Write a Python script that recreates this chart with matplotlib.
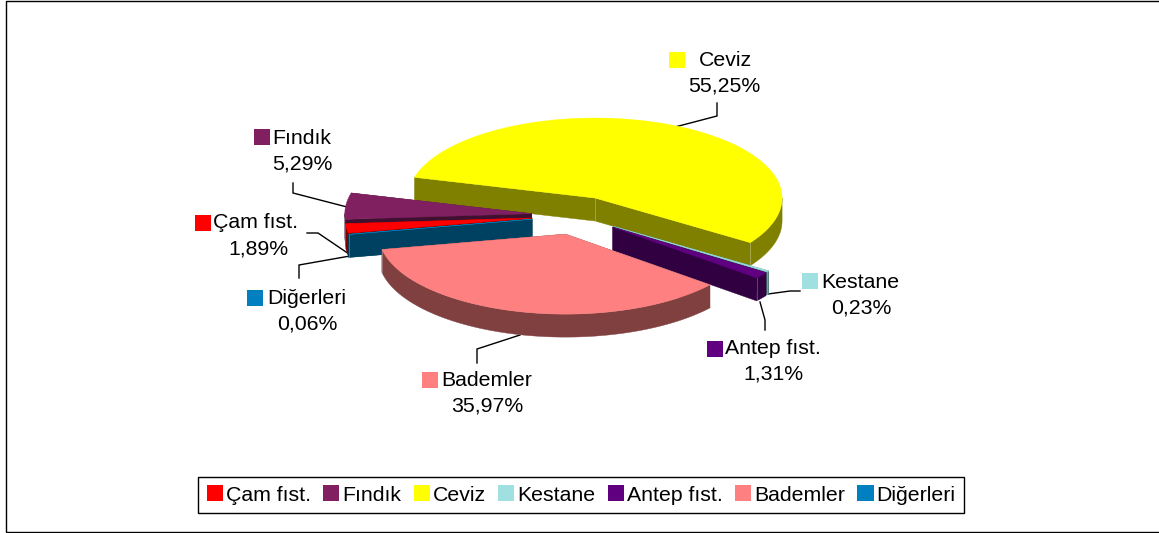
import numpy as np
import matplotlib
matplotlib.use("Agg")
import matplotlib.pyplot as plt
from matplotlib.patches import Polygon, Rectangle, Patch

categories = ["Çam fıst.", "Fındık", "Ceviz", "Kestane", "Antep fıst.", "Bademler", "Diğerleri"]
values = [1.89, 5.29, 55.25, 0.23, 1.31, 35.97, 0.06]
top_colors = ["#FF0000", "#802060", "#FFFF00", "#A0E0E0", "#600080", "#FF8080", "#0080C0"]
side_colors = ["#800000", "#401030", "#808000", "#508080", "#300040", "#804040", "#004060"]

plt.rcParams["font.family"] = ["Liberation Sans", "DejaVu Sans"]
FS = 15.3

W, H = 1159, 533
fig = plt.figure(figsize=(W / 100, H / 100), dpi=100)
ax = fig.add_axes([0, 0, 1, 1])
ax.set_xlim(0, W)
ax.set_ylim(H, 0)
ax.axis("off")

# chart frame
ax.plot([1159, 6, 6, 1159], [0.5, 0.5, 532, 532], color="black", lw=1, solid_joinstyle="miter")

# pie geometry (pixels)
CX, CY, RX, RY = 576.5, 215.5, 187, 80
DEPTH, EXPLODE = 23, 0.24
START = 190.85  # degrees, ellipse parameter of the first slice's start, going clockwise


def rim(a0, a1, cx, cy, n=None):
    n = n or max(2, int(abs(a1 - a0)) + 2)
    t = np.radians(np.linspace(a0, a1, n))
    return np.c_[cx + RX * np.cos(t), cy - RY * np.sin(t)]


def face(pts, color, z):
    ax.add_patch(Polygon(pts, closed=True, fc=color, ec=color, lw=0.3, zorder=z))


shares = np.array(values) / np.sum(values) * 360
ends = START - np.cumsum(shares)
starts = ends + shares
draw_order = [2, 1, 0, 6, 3, 4, 5]  # back to front
z = 3
for i in draw_order:
    a0, a1 = starts[i], ends[i]
    mid = np.radians((a0 + a1) / 2)
    cx = CX + EXPLODE * RX * np.cos(mid)
    cy = CY - EXPLODE * RY * np.sin(mid)
    apex = np.array([cx, cy])
    down = np.array([0, DEPTH])
    # visible outer rim: the lower half of the ellipse
    lo, hi = a1, a0
    for shift in (-360, 0):
        s, e = max(lo, 180 + shift), min(hi, 360 + shift)
        if e > s:
            r = rim(s, e, cx, cy)
            face(np.vstack([r, (r + down)[::-1]]), side_colors[i], z)
    # cut faces
    for a in (a0, a1):
        p = rim(a, a, cx, cy, 2)[0]
        face([apex, p, p + down, apex + down], side_colors[i], z)
    # pale seams on the vertical edges
    p_end = rim(a1, a1, cx, cy, 2)[0]
    for q in (apex, p_end):
        ax.plot([q[0], q[0]], [q[1], q[1] + DEPTH], color="white", alpha=0.25, lw=0.7, zorder=z)
    z += 1
    face(np.vstack([[apex], rim(a0, a1, cx, cy)]), top_colors[i], z)
    z += 1

# data labels
label_layout = {
    "Çam fıst.": dict(sw=(195, 215), tx=(213, 223), pc=(258, 249), leader=[(349, 254), (318, 233), (307, 233)]),
    "Fındık": dict(sw=(254, 129), tx=(272, 138), pc=(302, 164), leader=[(347, 207), (293, 193), (293, 183)]),
    "Ceviz": dict(sw=(669, 52), tx=(699, 60), pc=(724, 86), leader=[(675, 127), (717, 116), (717, 103)]),
    "Kestane": dict(sw=(802, 273), tx=(821, 282), pc=(861, 308), leader=[(768, 294), (790, 291), (800, 291)]),
    "Antep fıst.": dict(sw=(707, 341), tx=(725, 348), pc=(773, 374), leader=[(760, 302), (765, 320), (765, 330)]),
    "Bademler": dict(sw=(422, 372), tx=(441, 380), pc=(487, 406), leader=[(520, 335), (477, 349), (477, 363)]),
    "Diğerleri": dict(sw=(247, 290), tx=(267, 298), pc=(307, 324), leader=[(350, 256), (299, 265), (299, 278)]),
}
for name, val, col in zip(categories, values, top_colors):
    L = label_layout[name]
    xs, ys = zip(*L["leader"])
    ax.plot(xs, ys, color="black", lw=1, zorder=2, solid_joinstyle="miter")
    ax.add_patch(Rectangle(L["sw"], 15.5, 15.5, fc=col, ec="none", zorder=30))
    ax.text(*L["tx"], name, fontsize=FS, ha="left", va="center", color="black", zorder=30)
    ax.text(*L["pc"], f"{val:.2f}%".replace(".", ","), fontsize=FS, ha="center", va="center",
            color="black", zorder=30)

# legend
handles = [Patch(fc=c, ec="none", label=n) for n, c in zip(categories, top_colors)]
leg = ax.legend(handles=handles, ncol=7, loc="center", bbox_to_anchor=(581 / W, 1 - 495 / H),
                bbox_transform=ax.transAxes, fontsize=FS, frameon=True, fancybox=False,
                framealpha=1, edgecolor="black", handlelength=0.76, handleheight=0.76,
                handletextpad=0.12, columnspacing=0.6, borderpad=0.4, borderaxespad=0)
leg.get_frame().set_linewidth(1)
leg.set_zorder(40)

fig.savefig("out.png", dpi=100, facecolor="white")
